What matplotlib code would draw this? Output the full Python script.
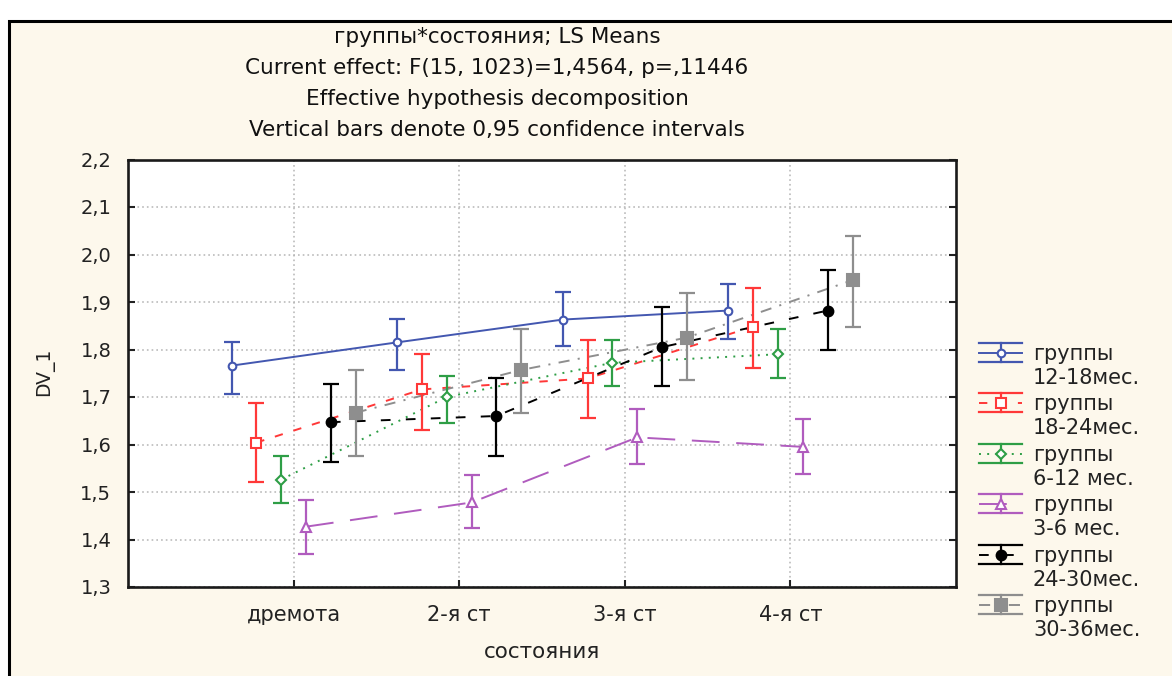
import matplotlib
matplotlib.use("Agg")
import matplotlib.pyplot as plt
from matplotlib.patches import Rectangle
from matplotlib.ticker import FixedLocator, FuncFormatter
import numpy as np

# ---------------- data ----------------
categories = ['дремота', '2-я ст', '3-я ст', '4-я ст']
group_labels = ['группы\n12-18мес.', 'группы\n18-24мес.', 'группы\n6-12 мес.',
                'группы\n3-6 мес.', 'группы\n24-30мес.', 'группы\n30-36мес.']

m_12_18 = [1.766, 1.815, 1.863, 1.882]
lo_12_18 = [1.707, 1.757, 1.808, 1.823]
hi_12_18 = [1.815, 1.864, 1.921, 1.937]

m_18_24 = [1.604, 1.716, 1.739, 1.848]
lo_18_24 = [1.522, 1.630, 1.656, 1.761]
hi_18_24 = [1.688, 1.791, 1.820, 1.929]

m_6_12 = [1.526, 1.700, 1.772, 1.790]
lo_6_12 = [1.477, 1.646, 1.724, 1.741]
hi_6_12 = [1.575, 1.745, 1.820, 1.844]

m_3_6 = [1.427, 1.478, 1.615, 1.595]
lo_3_6 = [1.370, 1.424, 1.560, 1.537]
hi_3_6 = [1.484, 1.536, 1.675, 1.653]

m_24_30 = [1.647, 1.660, 1.805, 1.882]
lo_24_30 = [1.563, 1.575, 1.724, 1.800]
hi_24_30 = [1.727, 1.741, 1.889, 1.967]

m_30_36 = [1.667, 1.757, 1.825, 1.946]
lo_30_36 = [1.576, 1.667, 1.735, 1.848]
hi_30_36 = [1.757, 1.844, 1.918, 2.038]

y_ticks = [1.3, 1.4, 1.5, 1.6, 1.7, 1.8, 1.9, 2.0, 2.1, 2.2]

title_lines = ['группы*состояния; LS Means',
               'Current effect: F(15, 1023)=1,4564, p=,11446',
               'Effective hypothesis decomposition',
               'Vertical bars denote 0,95 confidence intervals']

# ---------------- styles ----------------
means = [m_12_18, m_18_24, m_6_12, m_3_6, m_24_30, m_30_36]
lows = [lo_12_18, lo_18_24, lo_6_12, lo_3_6, lo_24_30, lo_30_36]
highs = [hi_12_18, hi_18_24, hi_6_12, hi_3_6, hi_24_30, hi_30_36]
colors = ['#4357B0', '#FF3838', '#2E9E46', '#B05CBE', '#000000', '#8E8E8E']
linestyles = ['-', (0, (6, 8)), (0, (1.4, 4.5)), (0, (20, 12)), (0, (7, 11)), (0, (8, 6, 1.5, 6))]
markers = ['o', 's', 'D', '^', 'o', 's']
msizes = [5.5, 7, 5.5, 6.5, 7, 8]
mfaces = ['white', 'white', 'white', 'white', '#000000', '#8E8E8E']
offsets = [-0.375, -0.225, -0.075, 0.075, 0.225, 0.375]

plt.rcParams['lines.scale_dashes'] = False
plt.rcParams['font.family'] = ['DejaVu Sans']

W, H = 1172, 676
fig = plt.figure(figsize=(W / 100, H / 100), dpi=100, facecolor='white')

# cream panel with black frame (left/top visible)
fig.patches.append(Rectangle((9 / W, -0.2), 1.5, 1 - 21 / H + 0.2, transform=fig.transFigure,
                             facecolor='#FDF8EC', edgecolor='black', linewidth=2.2, zorder=-10))

ax = fig.add_axes([128 / W, 1 - 587 / H, (956 - 128) / W, (587 - 159.5) / H])
ax.set_facecolor('white')
ax.set_xlim(0, 5)
ax.set_ylim(1.3, 2.2)

x_base = np.arange(1, len(categories) + 1)
for i in range(len(means)):
    xs = x_base + offsets[i]
    mv = np.array(means[i])
    yerr = [mv - np.array(lows[i]), np.array(highs[i]) - mv]
    ax.plot(xs, mv, color=colors[i], linestyle=linestyles[i], linewidth=1.4, zorder=3)
    ax.errorbar(xs, mv, yerr=yerr, fmt='none', ecolor=colors[i], elinewidth=1.6,
                capsize=5.5, capthick=1.6, zorder=4)
    ax.plot(xs, mv, linestyle='none', marker=markers[i], markersize=msizes[i],
            markerfacecolor=mfaces[i], markeredgecolor=colors[i], markeredgewidth=1.5, zorder=5)

ax.yaxis.set_major_locator(FixedLocator(y_ticks))
ax.yaxis.set_major_formatter(FuncFormatter(lambda v, p: f'{v:.1f}'.replace('.', ',')))
ax.set_xticks(x_base)
ax.set_xticklabels(categories)
ax.tick_params(axis='y', direction='in', length=5, width=1.5, left=True, right=True,
               labelsize=14, pad=12, colors='#222222')
ax.tick_params(axis='x', direction='in', length=5, width=1.5, bottom=True, top=False,
               labelsize=15, pad=13, colors='#222222')
ax.grid(True, color='#B5B5B5', linestyle=(0, (1.2, 2.2)), linewidth=1.1, zorder=1)
for s in ax.spines.values():
    s.set_linewidth(1.9)
    s.set_color('#1A1A1A')

ax.set_xlabel('состояния', fontsize=15.5, labelpad=12, color='#222222')
fig.text(45 / W, 1 - 372 / H, 'DV_1', rotation=90, ha='center', va='center', fontsize=13.5,
         color='#222222')

# titles
for k, t in enumerate(title_lines):
    fig.text(497 / W, 1 - (37 + 31 * k) / H, t, ha='center', va='center',
             fontsize=15.5, color='#111111')

# legend (drawn in pixel overlay)
lax = fig.add_axes([0, 0, 1, 1], facecolor='none')
lax.set_xlim(0, W)
lax.set_ylim(H, 0)
lax.axis('off')
for i in range(len(means)):
    cy = 353 + 50.4 * i
    c = colors[i]
    lax.plot([979, 1022], [cy - 10, cy - 10], color=c, linewidth=1.6)
    lax.plot([979, 1022], [cy + 9, cy + 9], color=c, linewidth=1.6)
    lax.plot([1001, 1001], [cy - 10, cy + 9], color=c, linewidth=1.6)
    lax.plot([979, 1022], [cy, cy], color=c, linewidth=1.4, linestyle=linestyles[i])
    lax.plot([1001], [cy], marker=markers[i], markersize=msizes[i], markerfacecolor=mfaces[i],
             markeredgecolor=c, markeredgewidth=1.5, linestyle='none')
    l1, l2 = group_labels[i].split('\n')
    lax.text(1033, cy + 1, l1, ha='left', va='center', fontsize=15, color='#222222')
    lax.text(1033, cy + 25, l2, ha='left', va='center', fontsize=15, color='#222222')

fig.savefig('out.png', dpi=100, facecolor=fig.get_facecolor())
